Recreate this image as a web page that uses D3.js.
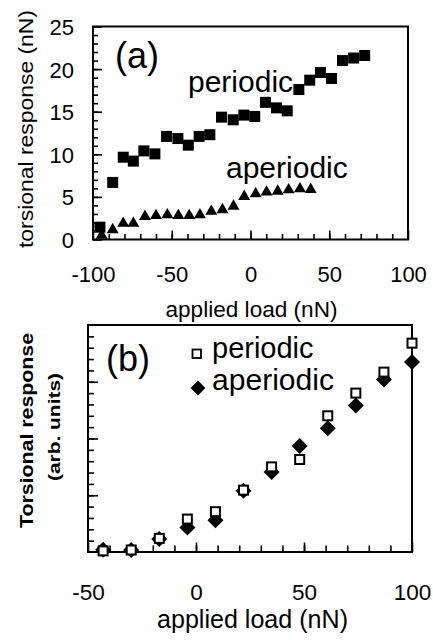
<!DOCTYPE html>
<html><head><meta charset="utf-8">
<script src="https://cdn.jsdelivr.net/npm/d3@7/dist/d3.min.js"></script>
<style>
html,body{margin:0;padding:0;background:#fff;}
svg{display:block;font-family:"Liberation Sans",Arial,Helvetica,sans-serif;}
</style></head>
<body>
<svg id="chart" width="433" height="640"></svg>
<script>
// ---------- Panel (a) data ----------
const aPeriodicLoad = [-95.6,-87.5,-80.8,-74.4,-67.7,-60.7,-53.3,-46.1,-39.5,-32.6,-25.8,-18.4,-11.0,-4.2,2.7,9.5,16.5,23.3,30.7,37.6,44.4,51.4,58.4,65.5,72.5];
const aPeriodicResp = [1.45,6.7,9.66,9.2,10.4,10.05,12.1,11.85,11.07,12.1,12.3,14.36,14.05,14.6,14.44,16.1,15.45,15.1,17.6,18.7,19.6,18.9,21.0,21.3,21.6];
const aAperiodicLoad = [-94.5,-87.5,-80.8,-74.4,-67.0,-60.0,-52.8,-45.8,-38.9,-32.1,-24.9,-17.8,-10.8,-4.0,3.3,10.2,17.3,24.2,31.4,38.2];
const aAperiodicResp = [0.5,1.15,1.9,1.9,2.7,2.8,2.9,2.8,2.8,2.9,3.3,3.5,3.9,5.05,5.36,5.56,5.67,5.83,5.95,5.87];
const aXTicks = [-100,-50,0,50,100];
const aYTicks = [0,5,10,15,20,25];

// ---------- Panel (b) data ----------
const bLoad = [-43,-30,-17,-4,9,22,35,48,61,74,87,100];
const bPeriodic = [0.02,0.035,0.24,0.58,0.71,1.09,1.50,1.63,2.40,2.80,3.17,3.68];
const bAperiodic = [0.04,0.035,0.23,0.43,0.56,1.08,1.41,1.87,2.18,2.58,3.04,3.35];
const bXTicks = [-50,0,50,100];

const svg = d3.select("#chart");

function frame(g, x0, y0, x1, y1){
  g.append("rect").attr("x",x0).attr("y",y0).attr("width",x1-x0).attr("height",y1-y0)
    .attr("fill","none").attr("stroke","#000").attr("stroke-width",2);
}
function styleAxis(g){
  g.select(".domain").remove();
  g.selectAll("line").attr("stroke","#000").attr("stroke-width",1.6);
}
function minorAxis(g){
  styleAxis(g);
  g.selectAll("text").remove();
}

// ================= Panel (a) =================
const ax = d3.scaleLinear().domain([-100,100]).range([93,408]);
const ay = d3.scaleLinear().domain([0,25]).range([239.5,26.5]);
const ga = svg.append("g");

// minor ticks
ga.append("g").attr("transform",`translate(0,${ay(0)})`)
  .call(d3.axisBottom(ax).tickValues(d3.range(-90,100,10)).tickSize(-5.5).tickSizeOuter(0))
  .call(minorAxis);
ga.append("g").attr("transform",`translate(${ax(-100)},0)`)
  .call(d3.axisLeft(ay).tickValues(d3.range(1,25,1)).tickSize(-5).tickSizeOuter(0))
  .call(minorAxis);
// major ticks
const aBottom = ga.append("g").attr("transform",`translate(0,${ay(0)})`)
  .call(d3.axisBottom(ax).tickValues(aXTicks).tickSize(-9).tickSizeOuter(0).tickFormat(d3.format("d")))
  .call(styleAxis);
aBottom.selectAll("text").attr("y",42.5).attr("dy",null).attr("font-size",22)
  .attr("font-family",null).attr("fill","#000").text(d=>String(d));
const aLeft = ga.append("g").attr("transform",`translate(${ax(-100)},0)`)
  .call(d3.axisLeft(ay).tickValues(aYTicks).tickSize(-9).tickSizeOuter(0).tickPadding(19))
  .call(styleAxis);
aLeft.selectAll("text").attr("font-size",22).attr("font-family",null).attr("fill","#000").attr("dy","0.36em");

frame(ga, 93, 26.5, 408, 239.5);

// periodic squares
ga.selectAll("rect.sq").data(aPeriodicLoad.map((v,i)=>[v,aPeriodicResp[i]])).join("rect")
  .attr("class","sq").attr("x",d=>ax(d[0])-5.5).attr("y",d=>ay(d[1])-5.5)
  .attr("width",11).attr("height",11).attr("fill","#000");
// aperiodic triangles
ga.selectAll("path.tri").data(aAperiodicLoad.map((v,i)=>[v,aAperiodicResp[i]])).join("path")
  .attr("class","tri").attr("d",d3.symbol(d3.symbolTriangle,62))
  .attr("transform",d=>`translate(${ax(d[0])},${ay(d[1])})`).attr("fill","#000");

ga.append("text").attr("x",115).attr("y",68).attr("font-size",36).text("(a)");
ga.append("text").attr("x",188).attr("y",91.5).attr("font-size",30).text("periodic");
ga.append("text").attr("x",226).attr("y",178).attr("font-size",30).text("aperiodic");
ga.append("text").attr("x",251.5).attr("y",317).attr("text-anchor","middle").attr("font-size",22)
  .attr("textLength",172).attr("lengthAdjust","spacingAndGlyphs").text("applied load (nN)");
ga.append("text").attr("transform","translate(33,129) rotate(-90)").attr("text-anchor","middle")
  .attr("font-size",21).attr("textLength",238).attr("lengthAdjust","spacingAndGlyphs")
  .text("torsional response (nN)");

// ================= Panel (b) =================
const bx = d3.scaleLinear().domain([-50,100]).range([88,412]);
const by = d3.scaleLinear().domain([0,4]).range([552,325]);
const gb = svg.append("g");

gb.append("g").attr("transform",`translate(0,${by(0)})`)
  .call(d3.axisBottom(bx).tickValues(d3.range(-40,100,10)).tickSize(-6.5).tickSizeOuter(0))
  .call(minorAxis);
gb.append("g").attr("transform",`translate(${bx(-50)},0)`)
  .call(d3.axisLeft(by).tickValues(d3.range(0.2,4,0.2)).tickSize(-6).tickSizeOuter(0))
  .call(minorAxis);
gb.append("g").attr("transform",`translate(${bx(-50)},0)`)
  .call(d3.axisLeft(by).tickValues([1,2,3]).tickSize(-10).tickSizeOuter(0))
  .call(minorAxis);
const bBottom = gb.append("g").attr("transform",`translate(0,${by(0)})`)
  .call(d3.axisBottom(bx).tickValues(bXTicks).tickSize(-9.5).tickSizeOuter(0))
  .call(styleAxis);
bBottom.selectAll("text").attr("y",48).attr("dy",null).attr("font-size",22.5)
  .attr("font-family",null).attr("fill","#000").text(d=>String(d));

frame(gb, 88, 325, 412, 552);

const sym = d3.symbol(d3.symbolSquare,128);
// aperiodic diamonds (below)
gb.selectAll("path.dia").data(bLoad.map((v,i)=>[v,bAperiodic[i]])).join("path")
  .attr("class","dia").attr("d",sym)
  .attr("transform",d=>`translate(${bx(d[0])},${by(d[1])}) rotate(45)`).attr("fill","#000");
// periodic open squares
gb.selectAll("rect.osq").data(bLoad.map((v,i)=>[v,bPeriodic[i]])).join("rect")
  .attr("class","osq").attr("x",d=>bx(d[0])-4.5).attr("y",d=>by(d[1])-4.5)
  .attr("width",9).attr("height",9).attr("fill","#fff").attr("stroke","#000").attr("stroke-width",2);

// legend
gb.append("rect").attr("x",192.5).attr("y",349.5).attr("width",8.5).attr("height",8.5)
  .attr("fill","#fff").attr("stroke","#000").attr("stroke-width",1.8);
gb.append("path").attr("d",d3.symbol(d3.symbolSquare,110)).attr("transform","translate(198,388) rotate(45)").attr("fill","#000");
gb.append("text").attr("x",212).attr("y",358).attr("font-size",29).text("periodic");
gb.append("text").attr("x",212).attr("y",390).attr("font-size",29).attr("textLength",122).attr("lengthAdjust","spacingAndGlyphs").text("aperiodic");
gb.append("text").attr("x",106).attr("y",371).attr("font-size",36).text("(b)");

gb.append("text").attr("x",252.5).attr("y",628).attr("text-anchor","middle").attr("font-size",25)
  .attr("textLength",191).attr("lengthAdjust","spacingAndGlyphs").text("applied load (nN)");
gb.append("text").attr("transform","translate(32.5,430.5) rotate(-90)").attr("text-anchor","middle")
  .attr("font-size",19).attr("font-weight","bold").attr("textLength",195).attr("lengthAdjust","spacingAndGlyphs")
  .text("Torsional response");
gb.append("text").attr("transform","translate(59.5,427) rotate(-90)").attr("text-anchor","middle")
  .attr("font-size",16.5).attr("font-weight","bold").attr("textLength",108).attr("lengthAdjust","spacingAndGlyphs")
  .text("(arb. units)");
</script>
</body></html>
